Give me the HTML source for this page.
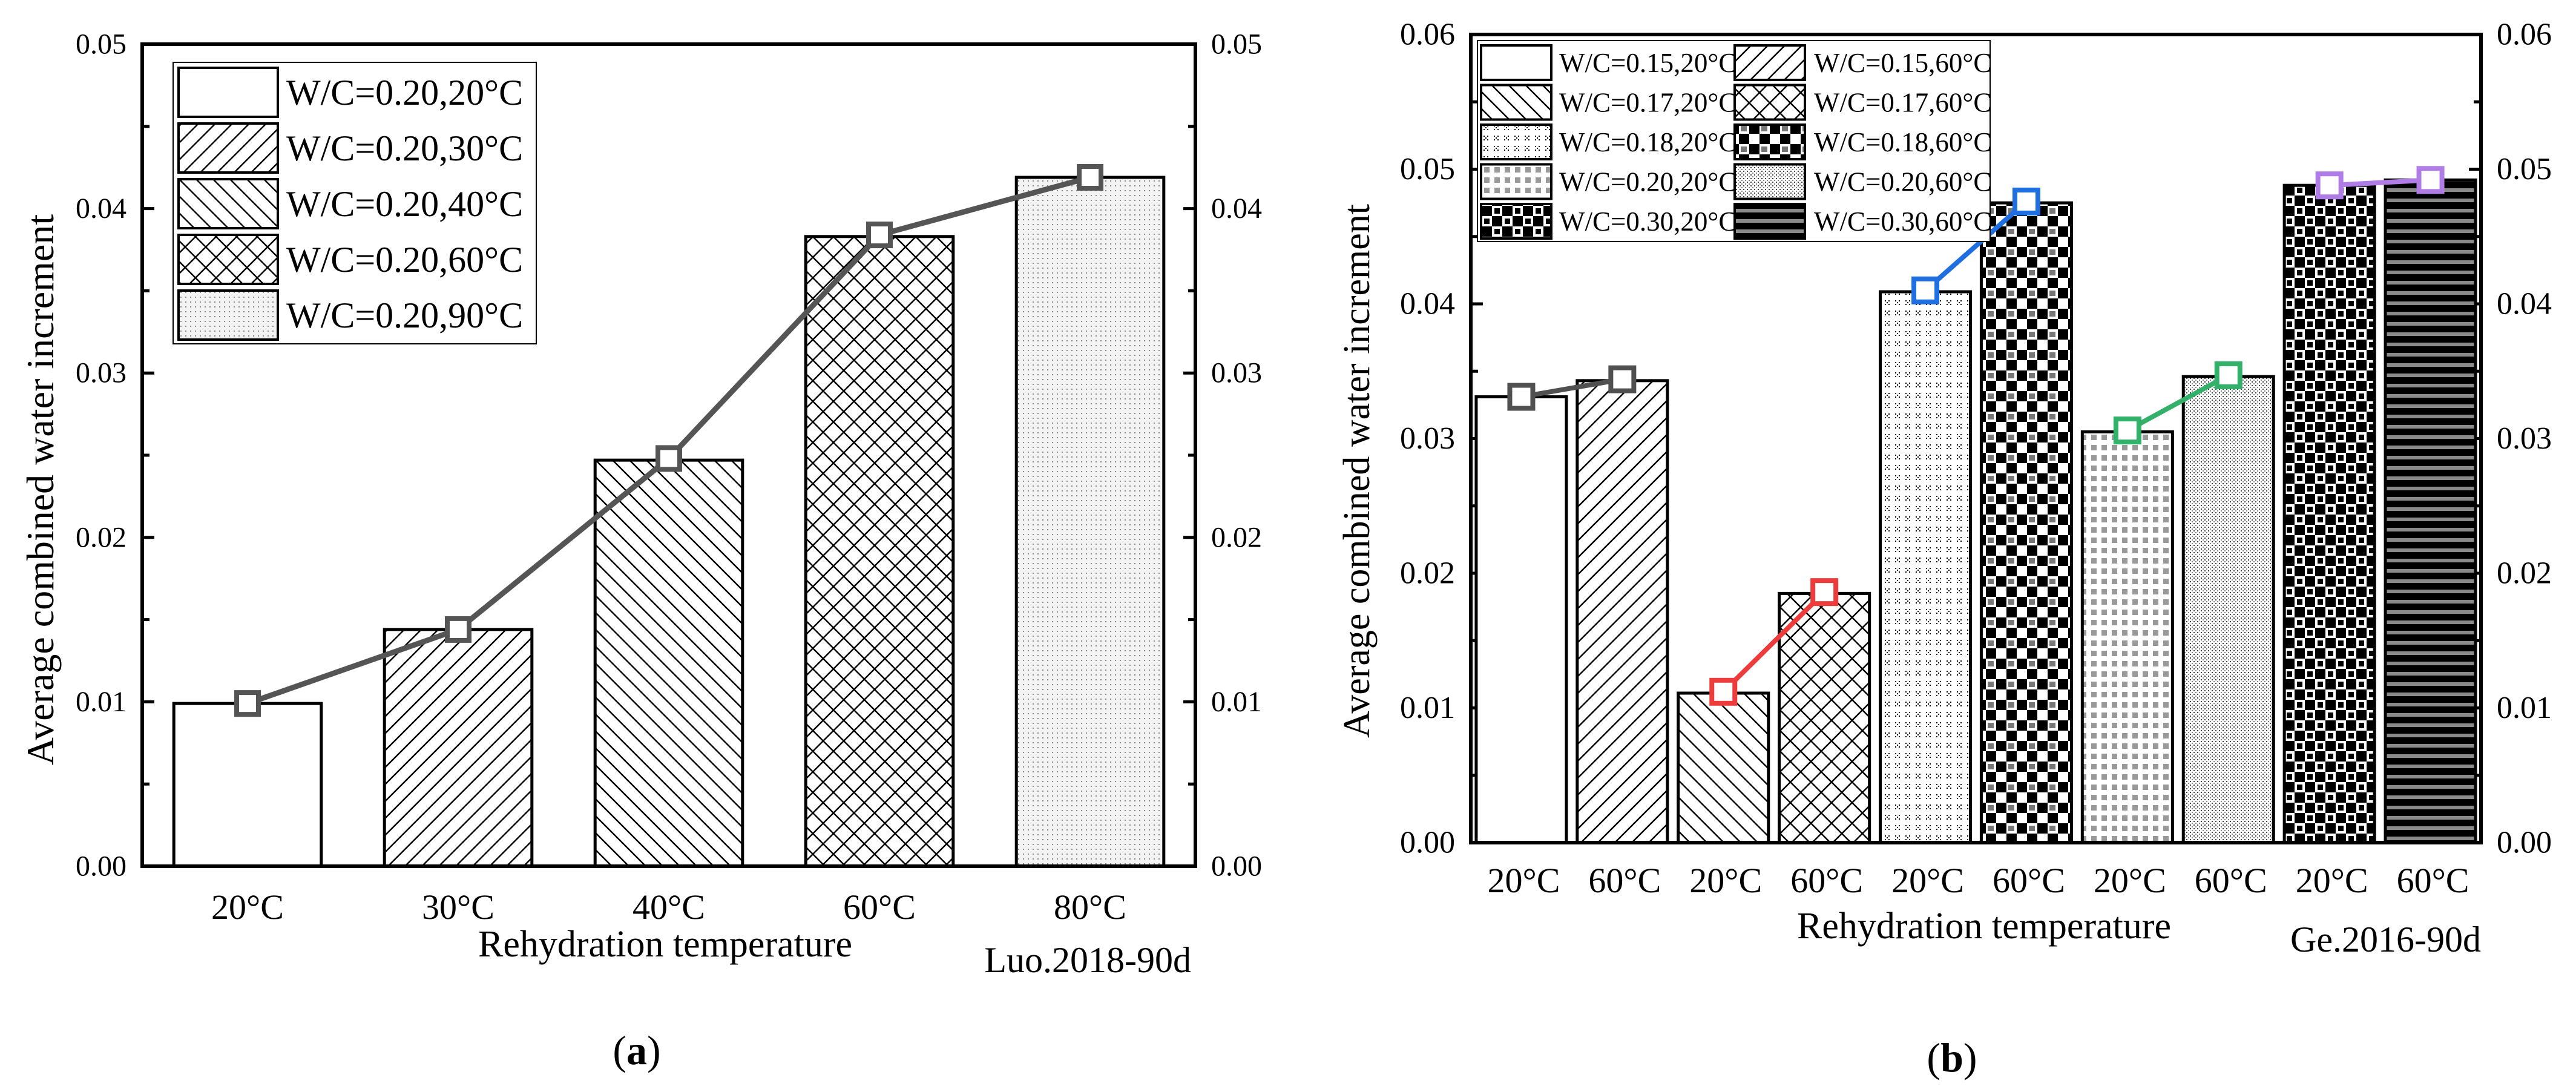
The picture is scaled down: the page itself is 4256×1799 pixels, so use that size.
<!DOCTYPE html>
<html><head><meta charset="utf-8"><style>
html,body{margin:0;padding:0;background:#fff}
svg{display:block;font-family:"Liberation Serif",serif}
</style></head><body>
<svg id="fig" width="4256" height="1799" viewBox="0 0 4256 1799" xmlns="http://www.w3.org/2000/svg">
<defs>
 <pattern id="pF" patternUnits="userSpaceOnUse" width="28" height="28"><path d="M-7,7 L7,-7 M0,28 L28,0 M21,35 L35,21" stroke="#000" stroke-width="2.5"/></pattern>
 <pattern id="pB" patternUnits="userSpaceOnUse" width="28" height="28"><path d="M-7,21 L7,35 M0,0 L28,28 M21,-7 L35,7" stroke="#000" stroke-width="2.5"/></pattern>
 <pattern id="pX" patternUnits="userSpaceOnUse" width="34" height="34"><path d="M0,34 L34,0 M0,0 L34,34" stroke="#000" stroke-width="2.5"/></pattern>
 <pattern id="pD" patternUnits="userSpaceOnUse" width="8" height="8"><rect width="8" height="8" fill="#f3f3f3"/><rect x="2" y="2" width="2" height="2" fill="#888"/></pattern>
 <pattern id="p5" patternUnits="userSpaceOnUse" width="17" height="17"><rect x="3" y="3" width="2" height="2" fill="#000"/><rect x="9" y="3" width="2" height="2" fill="#000"/><rect x="6" y="6" width="2" height="2" fill="#000"/><rect x="3" y="9" width="2" height="2" fill="#000"/><rect x="9" y="9" width="2" height="2" fill="#000"/></pattern>
 <pattern id="p6" patternUnits="userSpaceOnUse" width="34" height="34"><rect width="34" height="34" fill="#fff"/><rect x="0" y="0" width="17" height="17" fill="#000"/><rect x="17" y="17" width="17" height="17" fill="#000"/><rect x="20" y="4" width="10" height="9" fill="#777"/></pattern>
 <pattern id="p7" patternUnits="userSpaceOnUse" width="17" height="17"><rect x="4" y="4" width="9" height="9" fill="#999"/></pattern>
 <pattern id="p8" patternUnits="userSpaceOnUse" width="6" height="6"><rect width="6" height="6" fill="#fff"/><rect x="0" y="0" width="2" height="2" fill="#444"/><rect x="3" y="3" width="2" height="2" fill="#888"/></pattern>
 <pattern id="p9" patternUnits="userSpaceOnUse" width="34" height="34"><rect width="34" height="34" fill="#fff"/><rect x="0" y="0" width="17" height="17" fill="#000"/><rect x="17" y="17" width="17" height="17" fill="#000"/><rect x="21" y="4" width="9" height="9" fill="#000"/><rect x="4" y="21" width="9" height="9" fill="#000"/></pattern>
 <pattern id="p10" patternUnits="userSpaceOnUse" width="17" height="17"><rect width="17" height="17" fill="#000"/><rect x="0" y="5" width="17" height="6" fill="#8a8a8a"/></pattern>
</defs>
<g id="panelA"></g>
<g id="panelB"></g>
<text x="1052" y="1758" font-size="68" text-anchor="middle">(<tspan font-weight="bold">a</tspan>)</text>
<text x="3225" y="1770" font-size="68" text-anchor="middle">(<tspan font-weight="bold">b</tspan>)</text>
</svg>
<script>
// ---- Panel A data ----
const catsA = ["20°C","30°C","40°C","60°C","80°C"];
const valsA = [0.0099,0.0144,0.0247,0.0383,0.0419];
const lineA = [0.0099,0.0144,0.0248,0.0384,0.0419];
const legendA = ["W/C=0.20,20°C","W/C=0.20,30°C","W/C=0.20,40°C","W/C=0.20,60°C","W/C=0.20,90°C"];
const ticksA = ["0.00","0.01","0.02","0.03","0.04","0.05"];
// ---- Panel B data ----
const catsB = ["20°C","60°C","20°C","60°C","20°C","60°C","20°C","60°C","20°C","60°C"];
const valsB = [0.0331,0.0343,0.0111,0.0185,0.0409,0.0475,0.0305,0.0346,0.0488,0.0492];
const lineB = [0.0331,0.0344,0.0112,0.0186,0.0410,0.0476,0.0306,0.0347,0.0488,0.0492];
const legendB = ["W/C=0.15,20°C","W/C=0.15,60°C","W/C=0.17,20°C","W/C=0.17,60°C","W/C=0.18,20°C","W/C=0.18,60°C","W/C=0.20,20°C","W/C=0.20,60°C","W/C=0.30,20°C","W/C=0.30,60°C"];
const ticksB = ["0.00","0.01","0.02","0.03","0.04","0.05","0.06"];

const NS="http://www.w3.org/2000/svg";
function mk(parent,tag,attrs,txt){const e=document.createElementNS(NS,tag);for(const k in attrs)e.setAttribute(k,attrs[k]);if(txt!==undefined)e.textContent=txt;parent.appendChild(e);return e;}

function axes(g,c,ticks){
  const ys=v=>c.y0-(v/c.ymax)*(c.y0-c.y1);
  const n=ticks.length-1;
  for(let i=0;i<=2*n;i++){
    const v=c.ymax*i/(2*n), y=ys(v), L=(i%2===0)?20:12;
    const t1=mk(g,"line",{x1:c.x0,x2:c.x0+L,y1:y,y2:y,stroke:"#000","stroke-width":5});
    
    
    const t2=mk(g,"line",{x1:c.x1,x2:c.x1-L,y1:y,y2:y,stroke:"#000","stroke-width":5});
    
    
  }
  ticks.forEach((s,i)=>{
    const y=ys(c.ymax*i/n);
    const a=mk(g,"text",{x:c.x0-26,y:y,"font-size":c.tf,"text-anchor":"end","dominant-baseline":"central"},s);
    
    
    const b=mk(g,"text",{x:c.x1+26,y:y,"font-size":c.tf,"text-anchor":"start","dominant-baseline":"central"},s);
    
    
  });
  return ys;
}

function bars(g,c,vals,cats,fills,ys){
  const step=(c.x1-c.x0)/vals.length, bw=step*c.bw;
  const xc=i=>c.x0+step*(i+0.5);
  vals.forEach((v,i)=>{
    const r=mk(g,"rect",{x:xc(i)-bw/2,y:ys(v),width:bw,height:c.y0-ys(v),fill:fills[i],stroke:"#000","stroke-width":5});
    
    
    const t=mk(g,"text",{x:xc(i)+c.lx,y:c.lb,"font-size":c.xf,"text-anchor":"middle"},cats[i]);
    
    
  });
  return xc;
}

function marker(g,x,y,col,s){
  const m=mk(g,"rect",{x:x-s/2,y:y-s/2,width:s,height:s,fill:"#fff",stroke:col,"stroke-width":8});
  
  
}

// ---- Panel A ----
(function(){
  const g=document.getElementById("panelA");
  const c={x0:235,x1:1975,y0:1431,y1:73,ymax:0.05,bw:0.7,tf:48,xf:58,lb:1518,lx:0};
  const ys=axes(g,c,ticksA);
  const fills=["#fff","url(#pF)","url(#pB)","url(#pX)","url(#pD)"];
  const xc=bars(g,c,valsA,catsA,fills,ys);
  const pl=mk(g,"polyline",{points:lineA.map((v,i)=>xc(i)+","+ys(v)).join(" "),fill:"none",stroke:"#555","stroke-width":9});
  
  
  lineA.forEach((v,i)=>marker(g,xc(i),ys(v),"#555",36));
  const fr=mk(g,"rect",{x:c.x0,y:c.y1,width:c.x1-c.x0,height:c.y0-c.y1,fill:"none",stroke:"#000","stroke-width":6});
  
  
  const lg=mk(g,"g",{});
  
  
  mk(lg,"rect",{x:286,y:103,width:600,height:465,fill:"#fff",stroke:"#000","stroke-width":2});
  legendA.forEach((s,i)=>{
    const y=112+i*92;
    const sw=mk(lg,"rect",{x:295,y:y,width:164,height:81,fill:fills[i],stroke:"#000","stroke-width":4});
    
    
    const t=mk(lg,"text",{x:473,y:y+61,"font-size":60},s);
    
    
  });
  const xt=mk(g,"text",{x:1099,y:1580,"font-size":62,"text-anchor":"middle"},"Rehydration temperature");
  
  
  const src=mk(g,"text",{x:1968,y:1606,"font-size":60,"text-anchor":"end"},"Luo.2018-90d");
  
  
  const yt=mk(g,"text",{x:0,y:0,"font-size":64,"text-anchor":"middle",transform:"translate(88,809) rotate(-90)"},"Average combined water increment");
  
  
})();

// ---- Panel B ----
(function(){
  const g=document.getElementById("panelB");
  const c={x0:2430,x1:4099,y0:1392,y1:57,ymax:0.06,bw:0.893,tf:52,xf:58,lb:1474,lx:4};
  const ys=axes(g,c,ticksB);
  const fills=["#fff","url(#pF)","url(#pB)","url(#pX)","url(#p5)","url(#p6)","url(#p7)","url(#p8)","url(#p9)","url(#p10)"];
  const xc=bars(g,c,valsB,catsB,fills,ys);
  const cols=["#505050","#ee3b3b","#1f6fe0","#33b06a","#b07de6"];
  for(let p=0;p<5;p++){
    const a=2*p,b=2*p+1;
    const l=mk(g,"line",{x1:xc(a),y1:ys(lineB[a]),x2:xc(b),y2:ys(lineB[b]),stroke:cols[p],"stroke-width":8});
    
    
    marker(g,xc(a),ys(lineB[a]),cols[p],38);
    marker(g,xc(b),ys(lineB[b]),cols[p],38);
  }
  const fr=mk(g,"rect",{x:c.x0,y:c.y1,width:c.x1-c.x0,height:c.y0-c.y1,fill:"none",stroke:"#000","stroke-width":6});
  
  
  const lg=mk(g,"g",{});
  
  
  mk(lg,"rect",{x:2441,y:67,width:847,height:332,fill:"#fff",stroke:"#000","stroke-width":2});
  legendB.forEach((s,i)=>{
    const col=i%2, row=Math.floor(i/2);
    const sx=col?2866:2447, tx=col?2997:2576, y=75+row*65.5;
    const sw=mk(lg,"rect",{x:sx,y:y,width:116,height:57,fill:fills[i],stroke:"#000","stroke-width":4});
    
    
    const t=mk(lg,"text",{x:tx,y:y+44,"font-size":45},s);
    
    
  });
  const xt=mk(g,"text",{x:3278,y:1550,"font-size":62,"text-anchor":"middle"},"Rehydration temperature");
  
  
  const src=mk(g,"text",{x:4099,y:1572,"font-size":60,"text-anchor":"end"},"Ge.2016-90d");
  
  
  const yt=mk(g,"text",{x:0,y:0,"font-size":62,"text-anchor":"middle",transform:"translate(2262,778) rotate(-90)"},"Average combined water increment");
  
  
})();
</script>
</body></html>
